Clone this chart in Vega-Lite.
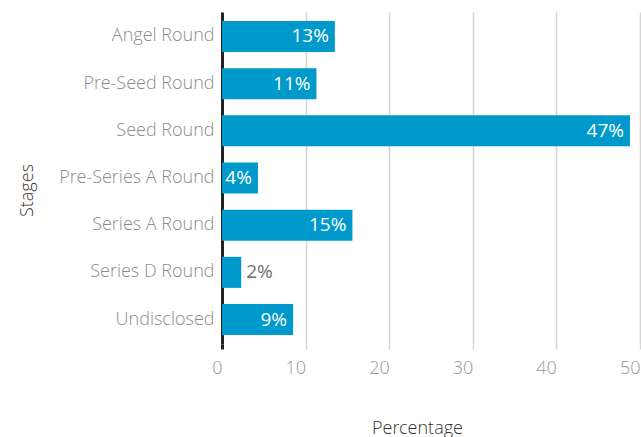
{
  "$schema": "https://vega.github.io/schema/vega-lite/v6.json",
  "autosize": {"type": "none"},
  "padding": {"left": 222, "top": 12, "right": 1, "bottom": 93},
  "width": 418,
  "height": 332,
  "background": "white",
  "config": {"view": {"stroke": null}, "font": "Open Sans"},
  "data": {
    "values": [
      {"stage": "Angel Round", "value": 13.5, "label": "13%", "inside": true},
      {"stage": "Pre-Seed Round", "value": 11.3, "label": "11%", "inside": true},
      {"stage": "Seed Round", "value": 48.8, "label": "47%", "inside": true},
      {"stage": "Pre-Series A Round", "value": 4.3, "label": "4%", "inside": true},
      {"stage": "Series A Round", "value": 15.6, "label": "15%", "inside": true},
      {"stage": "Series D Round", "value": 2.3, "label": "2%", "inside": false},
      {"stage": "Undisclosed", "value": 8.5, "label": "9%", "inside": true}
    ]
  },
  "encoding": {
    "y": {
      "field": "stage", "type": "nominal", "sort": null,
      "scale": {"paddingInner": 0.343, "paddingOuter": 0.19},
      "axis": {
        "title": "Stages", "titleFont": "Open Sans Light, Open Sans", "titleFontSize": 18, "titleFontWeight": 400,
        "titleColor": "#333333", "titleAngle": -90, "titleAlign": "center", "titleBaseline": "middle",
        "titleX": -195, "titleY": 178,
        "labelFont": "Open Sans Light, Open Sans", "labelFontSize": 18, "labelFontWeight": 300, "labelColor": "#8c8c8c",
        "labelPadding": 8, "ticks": false,
        "domainColor": "#222222", "domainWidth": 3, "grid": false
      }
    }
  },
  "layer": [
    {
      "mark": {"type": "bar", "color": "#0099CC"},
      "encoding": {
        "x": {
          "field": "value", "type": "quantitative",
          "scale": {"domain": [0, 50], "nice": false},
          "axis": {
            "title": "Percentage", "titleFont": "Open Sans Light, Open Sans", "titleFontSize": 18, "titleFontWeight": 300,
            "titleColor": "#333333", "titleAlign": "center", "titleBaseline": "middle",
            "titleX": 195, "titleY": 84,
            "values": [0, 10, 20, 30, 40, 50],
            "labelFont": "Open Sans Light, Open Sans", "labelFontSize": 18, "labelFontWeight": 300, "labelColor": "#999999",
            "labelAlign": "right", "labelPadding": 10, "labelFlush": false,
            "ticks": true, "tickSize": 5,
            "tickColor": {"condition": {"test": "datum.value == 0", "value": "#222222"}, "value": "#d4d4d4"},
            "tickWidth": {"condition": {"test": "datum.value == 0", "value": 3}, "value": 1.5},
            "domain": false,
            "grid": true, "gridColor": "#d4d4d4", "gridWidth": 1.5
          }
        }
      }
    },
    {
      "transform": [{"filter": "datum.inside"}],
      "mark": {"type": "text", "align": "right", "baseline": "middle", "dx": -6, "color": "white", "font": "Open Sans", "fontSize": 19},
      "encoding": {
        "x": {"field": "value", "type": "quantitative"},
        "text": {"field": "label"}
      }
    },
    {
      "transform": [{"filter": "!datum.inside"}],
      "mark": {"type": "text", "align": "left", "baseline": "middle", "dx": 5, "color": "#707070", "font": "Open Sans", "fontSize": 19},
      "encoding": {
        "x": {"field": "value", "type": "quantitative"},
        "text": {"field": "label"}
      }
    }
  ]
}
